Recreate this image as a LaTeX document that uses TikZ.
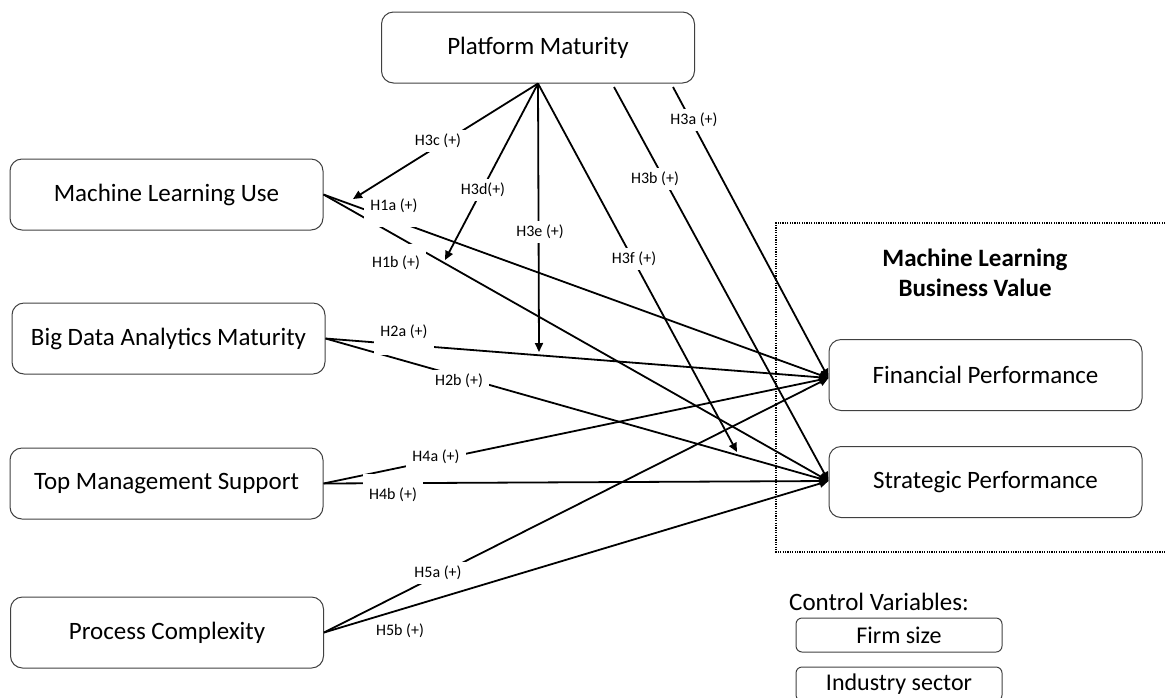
\documentclass[tikz,border=0pt]{standalone}
\usepackage{fontspec}
\setmainfont{Carlito}
\usetikzlibrary{arrows.meta,calc}
\begin{document}
\begin{tikzpicture}[x=1pt,y=-1pt,
  box/.style={draw=black!75, line width=1pt, rounded corners=12pt, minimum width=313pt, minimum height=71pt, inner sep=0pt, font=\fontsize{25}{30}\selectfont},
  smallbox/.style={draw=black!75, line width=1pt, rounded corners=6pt, minimum width=206pt, minimum height=34pt, inner sep=0pt, font=\fontsize{24}{28}\selectfont},
  hyp/.style={fill=white, inner xsep=6pt, inner ysep=4pt, font=\fontsize{16}{19}\selectfont},
  conn/.style={line width=1.8pt, draw=black},
  arr/.style={conn, -{Triangle[length=9pt,width=8pt]}}
]
\useasboundingbox (0,0) rectangle (1166,697);

% boxes
\node[box] (pm) at (538,47.5) {Platform Maturity};
\node[box] (mlu) at (166.5,194.5) {Machine Learning Use};
\node[box] (bda) at (168.5,338.5) {Big Data Analytics Maturity};
\node[box] (tms) at (166.5,483.5) {Top Management Support};
\node[box] (pc) at (167,632.5) {Process Complexity};
\node[box] (fp) at (985.5,375) {Financial Performance};
\node[box] (sp) at (985.5,482) {Strategic Performance};

% dotted outcome frame
\draw[line width=1.3pt, dash pattern=on 1.2pt off 1.2pt] (1170,223) -| (776,552) -- (1170,552);
\node[font=\bfseries\fontsize{25}{30}\selectfont, align=center] (mlbv) at (975,273) {Machine Learning\\Business Value};

% control variables
\node[anchor=west, font=\fontsize{25}{30}\selectfont, inner sep=0pt] (cv) at (789,602) {Control Variables:};
\node[smallbox] (fs) at (899,635) {Firm size};
\node[smallbox] (is) at (899,684) {Industry sector};

% moderation end points
\coordinate (pmA) at (673,87);
\coordinate (pmB) at (614,87);
\coordinate (e3c) at (353,199);
\coordinate (e3d) at (445,260);
\coordinate (e3e) at (539,352);
\coordinate (e3f) at (737,452);
\coordinate (fin) at ([yshift=-3pt]fp.west);
\coordinate (str) at ([yshift=1pt]sp.west);

% direct effects
\draw[arr] (mlu.east) -- (fin);
\draw[arr] (mlu.east) -- (str);
\draw[arr] (bda.east) -- (fin);
\draw[arr] (bda.east) -- (str);
\draw[arr] (tms.east) -- (fin);
\draw[arr] (tms.east) -- (str);
\draw[arr] (pc.east) -- (fin);
\draw[arr] (pc.east) -- (str);
\draw[arr] (pmA) -- (fin);
\draw[arr] (pmB) -- (str);

% moderation effects
\draw[arr] (pm.south) -- (e3c);
\draw[arr] (pm.south) -- (e3d);
\draw[arr] (pm.south) -- (e3e);
\draw[arr] (pm.south) -- (e3f);

% labels
\node[hyp] (l3c) at (438,141) {H3c (+)};
\node[hyp] (l3d) at (483,190) {H3d(+)};
\node[hyp] (l3e) at (540,232) {H3e (+)};
\node[hyp] (l3f) at (634,259) {H3f (+)};
\node[hyp] (l3b) at (655,179) {H3b (+)};
\node[hyp] (l3a) at (694,120) {H3a (+)};
\node[hyp, text depth=12pt] (l1a) at (394,211) {H1a (+)};
\node[hyp, text height=20pt] (l1b) at (396,259) {H1b (+)};
\node[hyp, text depth=14pt] (l2a) at (404,338) {H2a (+)};
\node[hyp] (l2b) at (459,381) {H2b (+)};
\node[hyp] (l4a) at (436,457) {H4a (+)};
\node[hyp, text height=22pt] (l4b) at (393,490) {H4b (+)};
\node[hyp] (l5a) at (438,573) {H5a (+)};
\node[hyp] (l5b) at (400,631) {H5b (+)};
\end{tikzpicture}
\end{document}
